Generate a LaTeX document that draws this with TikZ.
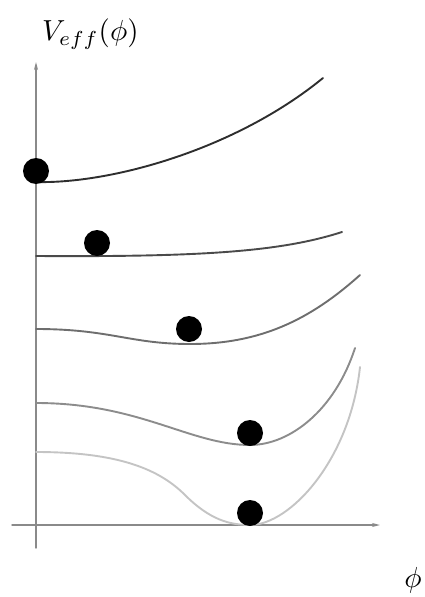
\documentclass[tikz,border=0pt]{standalone}
\usepackage{graphicx}
\usepackage{tikz}
\usetikzlibrary{arrows.meta, positioning}
\definecolor{axisgray}{HTML}{8A8A8A}
\definecolor{levelone}{HTML}{2E2E2E}
\definecolor{leveltwo}{HTML}{4A4A4A}
\definecolor{levelthree}{HTML}{6E6E6E}
\definecolor{levelfour}{HTML}{8C8C8C}
\definecolor{levelfive}{HTML}{C4C4C4}

\begin{document}
\begin{tikzpicture}[x=1pt, y=-1pt, line cap=round, line join=round,
    axis/.style={draw=axisgray, line width=1.4pt, -{Stealth[length=8pt, width=4pt]}},
    curve/.style={line width=1.9pt},
    ball/.style={circle, fill=black, minimum size=26pt, inner sep=0pt}]
      \useasboundingbox (0,0) rectangle (425,597);

      % Achsen
      \coordinate (O) at (36,525);
      \draw[axis] (36,548) -- (36,62) coordinate (ytip);
      \draw[axis] (12,525) -- (380,525) coordinate (xtip);
      \node[anchor=west, inner sep=0pt] (vlabel) at (42,34) {\scalebox{2.9}{$V_{eff}(\phi)$}};
      \node[inner sep=0pt] (philabel) at (413,580) {\scalebox{2.9}{$\phi$}};

      % Kurve 1
      \draw[curve, levelone] (36,182) .. controls (110,184) and (235,150) .. (323,78);
      \node[ball] (b1) at (36,171) {};

      % Kurve 2
      \draw[curve, leveltwo] (36,256) .. controls (200,257) and (280,252) .. (342,232);
      \node[ball] (b2) at (97,243) {};

      % Kurve 3
      \draw[curve, levelthree] (36,329) .. controls (110,329) and (130,344) .. (190,344)
            .. controls (260,344) and (310,320) .. (360,275);
      \node[ball] (b3) at (189,329) {};

      % Kurve 4
      \draw[curve, levelfour] (36,403) .. controls (140,403) and (190,445) .. (250,445)
            .. controls (290,445) and (335,410) .. (355,348);
      \node[ball] (b4) at (250,433) {};

      % Kurve 5
      \draw[curve, levelfive] (36,452) .. controls (120,452) and (160,470) .. (185,495)
            .. controls (210,520) and (230,525) .. (250,525)
            .. controls (290,525) and (350,460) .. (360,367);
      \node[ball] (b5) at (250,513) {};
    \end{tikzpicture}
\end{document}
